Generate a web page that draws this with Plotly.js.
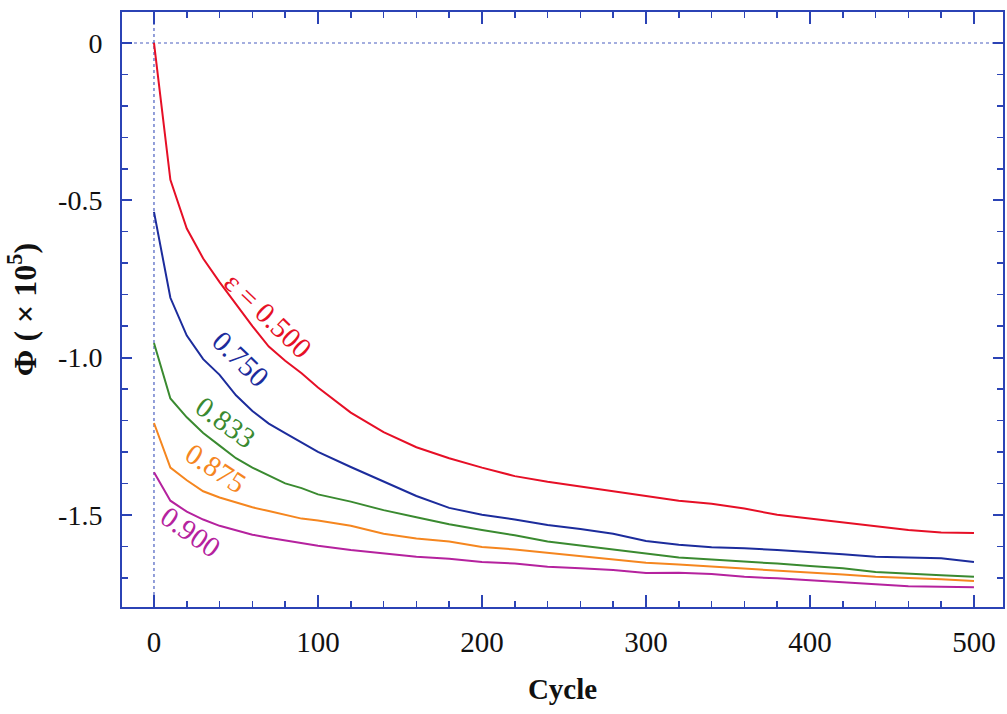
<!DOCTYPE html>
<html>
<head>
<meta charset="utf-8">
<script src="https://cdn.plot.ly/plotly-3.0.1.min.js"></script>
<style>html,body{margin:0;padding:0;background:#fff;}#chart{width:1007px;height:714px;}</style>
</head>
<body>
<div id="chart"></div>
<script>
const cycles = [0,10,20,30,40,50,60,70,80,90,100,120,140,160,180,200,220,240,260,280,300,320,340,360,380,400,420,440,460,480,500];
const eps500 = [0,-0.435,-0.59,-0.685,-0.76,-0.83,-0.90,-0.965,-1.01,-1.05,-1.095,-1.175,-1.237,-1.285,-1.32,-1.35,-1.377,-1.395,-1.41,-1.425,-1.44,-1.455,-1.465,-1.48,-1.50,-1.512,-1.522,-1.535,-1.548,-1.556,-1.558];
const eps750 = [-0.537,-0.81,-0.93,-1.005,-1.055,-1.12,-1.17,-1.21,-1.24,-1.27,-1.30,-1.348,-1.395,-1.44,-1.478,-1.50,-1.515,-1.532,-1.545,-1.56,-1.583,-1.595,-1.603,-1.606,-1.612,-1.618,-1.625,-1.633,-1.635,-1.638,-1.650];
const eps833 = [-0.954,-1.13,-1.19,-1.24,-1.28,-1.32,-1.35,-1.375,-1.40,-1.415,-1.435,-1.458,-1.485,-1.508,-1.53,-1.548,-1.565,-1.585,-1.598,-1.61,-1.625,-1.636,-1.642,-1.648,-1.655,-1.663,-1.670,-1.682,-1.686,-1.692,-1.697];
const eps875 = [-1.208,-1.35,-1.39,-1.425,-1.445,-1.46,-1.476,-1.488,-1.50,-1.512,-1.518,-1.535,-1.56,-1.575,-1.585,-1.602,-1.61,-1.62,-1.632,-1.64,-1.652,-1.658,-1.664,-1.670,-1.676,-1.682,-1.69,-1.697,-1.70,-1.705,-1.710];
const eps900 = [-1.365,-1.455,-1.49,-1.515,-1.535,-1.55,-1.563,-1.573,-1.582,-1.59,-1.598,-1.612,-1.622,-1.633,-1.64,-1.65,-1.655,-1.665,-1.670,-1.675,-1.685,-1.684,-1.688,-1.697,-1.702,-1.707,-1.714,-1.721,-1.727,-1.729,-1.730];
const seriesLabels = ['\u03b5 = 0.500','0.750','0.833','0.875','0.900'];
const labelX = [69.5,53.0,43.5,37.5,22.5];
const labelY = [-0.865,-1.005,-1.205,-1.352,-1.555];
const labelAngle = [44,44,36,33,35];
const yTickVals = [0,-0.5,-1.0,-1.5];
const yTickText = ['0','-0.5','-1.0','-1.5'];
const xTickVals = [0,100,200,300,400,500];

const colors = ['#e60f26','#1c2c9c','#3a8a30','#f5861f','#b5229e'];
const series = [eps500,eps750,eps833,eps875,eps900];
const serif = "'Liberation Serif', 'Times New Roman', serif";
const frame = '#2b43b5';

const traces = series.map((ys,i)=>({
  x: cycles, y: ys, type:'scatter', mode:'lines',
  line:{color:colors[i], width:2}, hoverinfo:'skip', showlegend:false
}));

const annotations = seriesLabels.map((t,i)=>({
  x: labelX[i], y: labelY[i], xref:'x', yref:'y', text:t, showarrow:false,
  textangle: labelAngle[i], font:{family:serif, size:29, color:colors[i]}
}));

const layout = {
  width:1007, height:714,
  margin:{l:122, r:4, t:12, b:107},
  paper_bgcolor:'#fff', plot_bgcolor:'#fff',
  font:{family:serif, size:28, color:'#111'},
  showlegend:false,
  xaxis:{
    range:[-19.5,517.7], tickvals:xTickVals, ticks:'inside', ticklen:12, tickwidth:2,
    tickcolor:frame, showline:true, linecolor:frame, linewidth:2, mirror:'allticks',
    showgrid:false, zeroline:false, ticklabelstandoff:8,
    minor:{dtick:20, tick0:0, ticks:'inside', ticklen:6, tickwidth:1.5, tickcolor:frame, showgrid:false},
    tickfont:{family:serif, size:29, color:'#111'},
    title:{text:'<b>Cycle</b>', font:{family:serif, size:29, color:'#111'}, standoff:22}
  },
  yaxis:{
    range:[-1.793,0.0985], tickvals:yTickVals, ticktext:yTickText, ticks:'inside', ticklen:10, tickwidth:2,
    tickcolor:frame, showline:true, linecolor:frame, linewidth:2, mirror:'allticks',
    showgrid:false, zeroline:false, ticklabelstandoff:12,
    minor:{dtick:0.1, tick0:0, ticks:'inside', ticklen:6, tickwidth:1.5, tickcolor:frame, showgrid:false},
    tickfont:{family:serif, size:28, color:'#111'},
    title:{text:'<b>\u03a6 ( \u00d7 10<sup>5</sup>)</b>', font:{family:serif, size:32, color:'#111'}, standoff:12}
  },
  shapes:[
    {type:'line', xref:'x', yref:'paper', x0:0, x1:0, y0:0, y1:1, line:{color:'#4a5fc0', width:1.2, dash:'dot'}, layer:'below'},
    {type:'line', xref:'paper', yref:'y', x0:0, x1:1, y0:0, y1:0, line:{color:'#4a5fc0', width:1.2, dash:'dot'}, layer:'below'}
  ],
  annotations: annotations
};

Plotly.newPlot('chart', traces, layout, {staticPlot:true, displayModeBar:false});
</script>
</body>
</html>
